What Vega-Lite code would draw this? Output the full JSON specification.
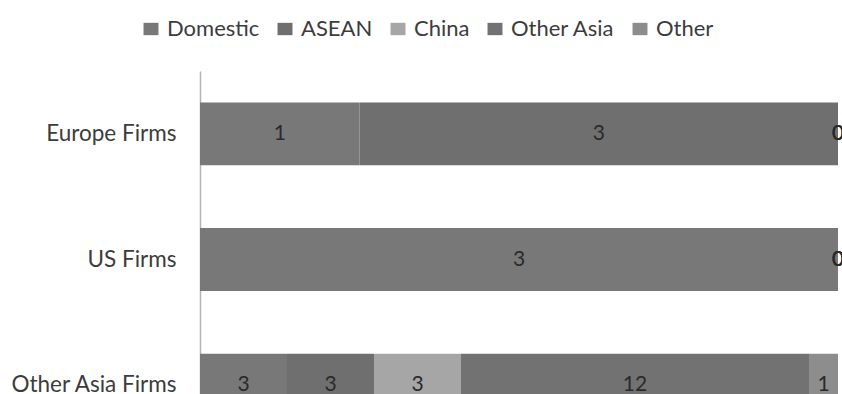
{
  "$schema": "https://vega.github.io/schema/vega-lite/v6.json",
  "width": 638,
  "height": 377,
  "autosize": {"type": "none"},
  "padding": {"left": 200, "top": 71, "right": 4, "bottom": 0},
  "background": "white",
  "config": {
    "view": {"stroke": null},
    "font": "Lato"
  },
  "data": {
    "values": [
      {"firm": "Europe Firms", "dest": "Domestic", "o": 1, "n": 1},
      {"firm": "Europe Firms", "dest": "ASEAN", "o": 2, "n": 3},
      {"firm": "Europe Firms", "dest": "China", "o": 3, "n": 0},
      {"firm": "Europe Firms", "dest": "Other Asia", "o": 4, "n": 0},
      {"firm": "Europe Firms", "dest": "Other", "o": 5, "n": 0},
      {"firm": "US Firms", "dest": "Domestic", "o": 1, "n": 3},
      {"firm": "US Firms", "dest": "ASEAN", "o": 2, "n": 0},
      {"firm": "US Firms", "dest": "China", "o": 3, "n": 0},
      {"firm": "US Firms", "dest": "Other Asia", "o": 4, "n": 0},
      {"firm": "US Firms", "dest": "Other", "o": 5, "n": 0},
      {"firm": "Other Asia Firms", "dest": "Domestic", "o": 1, "n": 3},
      {"firm": "Other Asia Firms", "dest": "ASEAN", "o": 2, "n": 3},
      {"firm": "Other Asia Firms", "dest": "China", "o": 3, "n": 3},
      {"firm": "Other Asia Firms", "dest": "Other Asia", "o": 4, "n": 12},
      {"firm": "Other Asia Firms", "dest": "Other", "o": 5, "n": 1}
    ]
  },
  "encoding": {
    "y": {
      "field": "firm",
      "type": "nominal",
      "sort": ["Europe Firms", "US Firms", "Other Asia Firms"],
      "scale": {"paddingInner": 0.5, "paddingOuter": 0.25},
      "axis": {
        "title": null,
        "ticks": false,
        "domainColor": "#b5b5b5",
        "domainWidth": 1.5,
        "labelFont": "Lato",
        "labelFontSize": 22.5,
        "labelColor": "#3c3c3c",
        "labelPadding": 24,
        "labelLimit": 300
      }
    }
  },
  "layer": [
    {
      "mark": {"type": "bar"},
      "encoding": {
        "x": {"field": "n", "type": "quantitative", "stack": "normalize", "axis": null},
        "order": {"field": "o", "type": "quantitative"},
        "color": {
          "field": "dest",
          "type": "nominal",
          "sort": ["Domestic", "ASEAN", "China", "Other Asia", "Other"],
          "scale": {
            "domain": ["Domestic", "ASEAN", "China", "Other Asia", "Other"],
            "range": ["#787878", "#6f6f6f", "#a6a6a6", "#727272", "#8d8d8d"]
          },
          "legend": {
            "title": null,
            "orient": "none",
            "direction": "horizontal",
            "legendX": -60,
            "legendY": -53,
            "symbolType": "M-1.15,-0.95H1.15V0.95H-1.15Z",
            "symbolSize": 169,
            "symbolStrokeWidth": 0,
            "labelFont": "Lato",
            "labelFontSize": 22,
            "labelColor": "#3c3c3c",
            "labelOffset": 5,
            "columnPadding": 14
          }
        }
      }
    },
    {
      "mark": {"type": "text", "font": "Lato", "fontSize": 21, "color": "#2a2a2a"},
      "encoding": {
        "x": {"field": "n", "type": "quantitative", "stack": "normalize", "bandPosition": 0.5},
        "order": {"field": "o", "type": "quantitative"},
        "detail": {"field": "dest"},
        "text": {"field": "n", "type": "quantitative"}
      }
    }
  ]
}
